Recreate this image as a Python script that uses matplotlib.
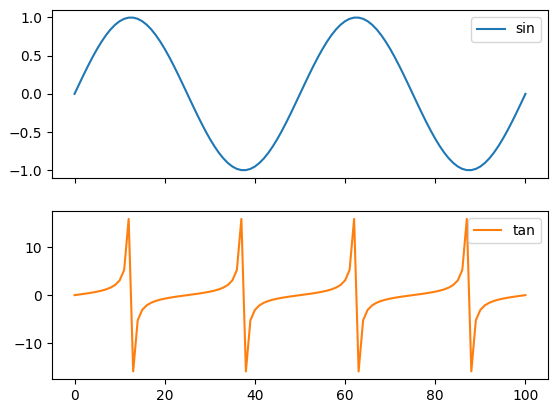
import matplotlib
matplotlib.use("Agg")
import matplotlib.pyplot as plt

# sample index 0..100
idx = list(range(101))

sin_vals = [
    0.0, 0.1253, 0.2487, 0.3681, 0.4818, 0.5878, 0.6845, 0.7705, 0.8443, 0.9048,
    0.9511, 0.9823, 0.998, 0.998, 0.9823, 0.9511, 0.9048, 0.8443, 0.7705, 0.6845,
    0.5878, 0.4818, 0.3681, 0.2487, 0.1253, 0.0, -0.1253, -0.2487, -0.3681, -0.4818,
    -0.5878, -0.6845, -0.7705, -0.8443, -0.9048, -0.9511, -0.9823, -0.998, -0.998, -0.9823,
    -0.9511, -0.9048, -0.8443, -0.7705, -0.6845, -0.5878, -0.4818, -0.3681, -0.2487, -0.1253,
    0.0, 0.1253, 0.2487, 0.3681, 0.4818, 0.5878, 0.6845, 0.7705, 0.8443, 0.9048,
    0.9511, 0.9823, 0.998, 0.998, 0.9823, 0.9511, 0.9048, 0.8443, 0.7705, 0.6845,
    0.5878, 0.4818, 0.3681, 0.2487, 0.1253, 0.0, -0.1253, -0.2487, -0.3681, -0.4818,
    -0.5878, -0.6845, -0.7705, -0.8443, -0.9048, -0.9511, -0.9823, -0.998, -0.998, -0.9823,
    -0.9511, -0.9048, -0.8443, -0.7705, -0.6845, -0.5878, -0.4818, -0.3681, -0.2487, -0.1253,
    0.0,
]

tan_vals = [
    0.0, 0.1263, 0.2568, 0.3959, 0.5498, 0.7265, 0.9391, 1.2088, 1.5757, 2.1251,
    3.0777, 5.2422, 15.8945, -15.8945, -5.2422, -3.0777, -2.1251, -1.5757, -1.2088, -0.9391,
    -0.7265, -0.5498, -0.3959, -0.2568, -0.1263, 0.0, 0.1263, 0.2568, 0.3959, 0.5498,
    0.7265, 0.9391, 1.2088, 1.5757, 2.1251, 3.0777, 5.2422, 15.8945, -15.8945, -5.2422,
    -3.0777, -2.1251, -1.5757, -1.2088, -0.9391, -0.7265, -0.5498, -0.3959, -0.2568, -0.1263,
    0.0, 0.1263, 0.2568, 0.3959, 0.5498, 0.7265, 0.9391, 1.2088, 1.5757, 2.1251,
    3.0777, 5.2422, 15.8945, -15.8945, -5.2422, -3.0777, -2.1251, -1.5757, -1.2088, -0.9391,
    -0.7265, -0.5498, -0.3959, -0.2568, -0.1263, 0.0, 0.1263, 0.2568, 0.3959, 0.5498,
    0.7265, 0.9391, 1.2088, 1.5757, 2.1251, 3.0777, 5.2422, 15.8945, -15.8945, -5.2422,
    -3.0777, -2.1251, -1.5757, -1.2088, -0.9391, -0.7265, -0.5498, -0.3959, -0.2568, -0.1263,
    0.0,
]

fig, (ax1, ax2) = plt.subplots(2, 1, sharex=True, figsize=(5.57, 4.13), dpi=100)
fig.subplots_adjust(left=0.0934, right=0.9838, top=0.9758, bottom=0.0823, hspace=0.2)

ax1.plot(idx, sin_vals, color="C0", label="sin")
ax1.legend(loc="upper right")

ax2.plot(idx, tan_vals, color="C1", label="tan")
ax2.legend(loc="upper right")

fig.savefig("out.png")
